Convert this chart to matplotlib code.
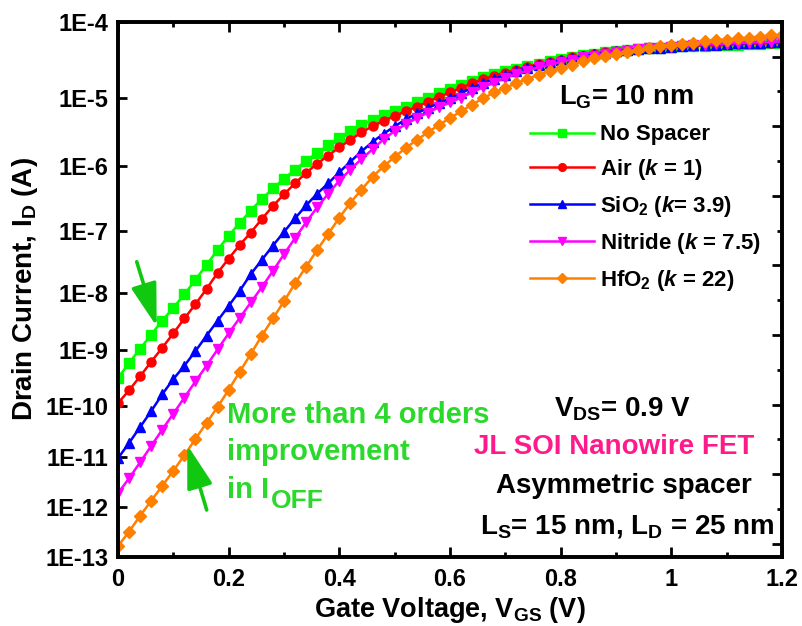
import numpy as np
import matplotlib
matplotlib.use("Agg")
import matplotlib.pyplot as plt
from matplotlib.ticker import FixedLocator, MultipleLocator, NullFormatter, NullLocator, FuncFormatter

plt.rcParams["font.family"] = ["Liberation Sans", "DejaVu Sans"]
plt.rcParams["font.weight"] = "bold"
plt.rcParams["axes.labelweight"] = "bold"
plt.rcParams["mathtext.fontset"] = "custom"
plt.rcParams["mathtext.rm"] = "Liberation Sans:bold"
plt.rcParams["mathtext.bf"] = "Liberation Sans:bold"
plt.rcParams["mathtext.it"] = "Liberation Sans:italic:bold"
plt.rcParams["mathtext.default"] = "rm"

# gate sweep 0 .. 1.2 V, 20 mV step
vgs = np.round(np.arange(0, 1.2001, 0.02), 2)

# log10 of drain current (A)
no_spacer_log = [
    -9.50, -9.23, -8.98, -8.73, -8.49, -8.26, -8.03, -7.79, -7.55, -7.31,
    -7.08, -6.88, -6.69, -6.51, -6.35, -6.20, -6.06, -5.93, -5.81, -5.70,
    -5.59, -5.49, -5.40, -5.33, -5.26, -5.20, -5.13, -5.06, -5.00, -4.94,
    -4.88, -4.83, -4.78, -4.73, -4.69, -4.65, -4.62, -4.58, -4.55, -4.52,
    -4.49, -4.465, -4.44, -4.42, -4.40, -4.385, -4.37, -4.36, -4.35, -4.34,
    -4.33, -4.325, -4.32, -4.315, -4.31, -4.305, -4.30, -4.295, -4.29, -4.285,
    -4.28,
]
air_log = [
    -9.95, -9.72, -9.47, -9.21, -8.96, -8.71, -8.45, -8.20, -7.94, -7.68,
    -7.45, -7.23, -7.03, -6.82, -6.62, -6.44, -6.27, -6.11, -5.97, -5.85,
    -5.73, -5.62, -5.51, -5.42, -5.34, -5.27, -5.20, -5.13, -5.06, -4.99,
    -4.93, -4.87, -4.81, -4.76, -4.71, -4.67, -4.63, -4.59, -4.56, -4.53,
    -4.50, -4.47, -4.45, -4.425, -4.405, -4.39, -4.375, -4.36, -4.35, -4.34,
    -4.33, -4.32, -4.315, -4.31, -4.30, -4.295, -4.29, -4.285, -4.28, -4.275,
    -4.27,
]
sio2_log = [
    -11.02, -10.72, -10.41, -10.10, -9.79, -9.52, -9.28, -9.02, -8.75, -8.49,
    -8.23, -7.97, -7.70, -7.47, -7.24, -7.02, -6.81, -6.61, -6.43, -6.27,
    -6.10, -5.94, -5.79, -5.65, -5.53, -5.42, -5.32, -5.23, -5.15, -5.08,
    -5.01, -4.94, -4.87, -4.81, -4.75, -4.70, -4.65, -4.61, -4.57, -4.54,
    -4.51, -4.48, -4.455, -4.43, -4.41, -4.39, -4.375, -4.36, -4.35, -4.34,
    -4.33, -4.32, -4.31, -4.305, -4.30, -4.29, -4.285, -4.28, -4.275, -4.27,
    -4.265,
]
nitride_log = [
    -11.72, -11.42, -11.10, -10.78, -10.46, -10.15, -9.85, -9.56, -9.28, -8.99,
    -8.71, -8.44, -8.17, -7.91, -7.65, -7.38, -7.12, -6.87, -6.64, -6.43,
    -6.23, -6.06, -5.90, -5.76, -5.61, -5.49, -5.39, -5.30, -5.22, -5.14,
    -5.07, -5.00, -4.93, -4.86, -4.80, -4.74, -4.69, -4.645, -4.60, -4.565,
    -4.53, -4.50, -4.47, -4.445, -4.42, -4.40, -4.38, -4.365, -4.35, -4.34,
    -4.33, -4.32, -4.31, -4.30, -4.295, -4.29, -4.28, -4.275, -4.27, -4.265,
    -4.26,
]
hfo2_log = [
    -12.78, -12.49, -12.17, -11.87, -11.57, -11.27, -10.96, -10.64, -10.33, -10.02,
    -9.71, -9.39, -9.07, -8.75, -8.45, -8.15, -7.85, -7.58, -7.31, -7.05,
    -6.80, -6.57, -6.37, -6.17, -6.01, -5.87, -5.74, -5.62, -5.51, -5.40,
    -5.30, -5.20, -5.10, -5.01, -4.93, -4.87, -4.81, -4.75, -4.70, -4.65,
    -4.61, -4.565, -4.52, -4.48, -4.455, -4.43, -4.40, -4.37, -4.34, -4.32,
    -4.305, -4.29, -4.275, -4.26, -4.245, -4.235, -4.22, -4.21, -4.195, -4.18,
    -4.17,
]

series = [
    ("No Spacer", no_spacer_log, "#00ff00", "s", 6.5),
    (r"Air ($\mathit{k}$ = 1)", air_log, "#ff0000", "o", 6.5),
    (r"SiO$_2$ ($\mathit{k}$= 3.9)", sio2_log, "#0000ff", "^", 7.5),
    (r"Nitride ($\mathit{k}$ = 7.5)", nitride_log, "#ff00ff", "v", 7.5),
    (r"HfO$_2$ ($\mathit{k}$ = 22)", hfo2_log, "#ff8000", "D", 6.5),
]

# the decade ticks of the original are not evenly spaced; calibrate them
dec_exp = np.arange(-13, -3)
dec_px = np.array([557, 507.3, 457.3, 406, 350, 292.7, 230.7, 165.7, 97.7, 21.7])


def fwd(v):
    return -np.interp(np.log10(np.clip(v, 1e-300, None)), dec_exp, dec_px)


def inv(f):
    return 10.0 ** np.interp(-np.asarray(f), dec_px[::-1], dec_exp[::-1])


fig = plt.figure(figsize=(8.02, 6.26), dpi=100)
ax = fig.add_axes([0.14713, 0.11022, 0.82793, 0.85511])
ax.set_yscale("function", functions=(fwd, inv))

for label, logs, color, marker, ms in series:
    ax.plot(vgs, 10.0 ** np.array(logs), color=color, marker=marker, ms=ms,
            lw=1.8, label=label)

ax.set_xlim(0, 1.2)
ax.set_ylim(1e-13, 1e-4)
ax.xaxis.set_major_locator(MultipleLocator(0.2))
ax.xaxis.set_minor_locator(MultipleLocator(0.1))
ax.xaxis.set_major_formatter(FuncFormatter(lambda x, _: f"{x:g}"))
ax.yaxis.set_major_locator(FixedLocator(10.0 ** dec_exp))
ax.yaxis.set_minor_locator(NullLocator())
ax.set_yticklabels([f"1E{e}" for e in dec_exp])

ax.tick_params(axis="both", which="both", direction="in", width=2, labelsize=17)
ax.tick_params(axis="x", which="major", length=7, top=True, pad=8)
ax.tick_params(axis="x", which="minor", length=3.5, top=True)
ax.tick_params(axis="y", which="major", length=6.5, pad=7)

# right axis carries its own evenly spaced ticks
ax2 = ax.twinx()
ax2.set_ylim(15.38, 0)
ax2.yaxis.set_major_locator(FixedLocator(np.arange(1, 16, 2)))
ax2.yaxis.set_minor_locator(FixedLocator(np.arange(0, 16, 2)))
ax2.yaxis.set_major_formatter(NullFormatter())
ax2.tick_params(axis="y", which="major", direction="in", length=7.5, width=2)
ax2.tick_params(axis="y", which="minor", direction="in", length=3.5, width=2)

for a in (ax, ax2):
    for sp in a.spines.values():
        sp.set_linewidth(2.6)

ax.set_xlabel(r"Gate Voltage, V$_{\rm GS}$ (V)", fontsize=19.5, labelpad=3)
ax.set_ylabel(r"Drain Current, I$_{\rm D}$ (A)", fontsize=20, labelpad=4)

ax.legend(loc="upper left", bbox_to_anchor=(0.6205, 0.808), frameon=False,
          fontsize=16, handlelength=2.9, handletextpad=0.25, labelspacing=0.53,
          borderaxespad=0, borderpad=0, markerscale=0.85)

ax.text(0.766, 0.8444, r"L$_{\rm G}$= 10 nm", transform=ax.transAxes,
        ha="center", va="baseline", fontsize=19.5)
ax.text(0.7605, 0.2621, r"V$_{\rm DS}$= 0.9 V", transform=ax.transAxes,
        ha="center", va="baseline", fontsize=20)
ax.text(0.747, 0.1924, "JL SOI Nanowire FET", transform=ax.transAxes,
        ha="center", va="baseline", fontsize=20, color="#ff1a8c")
ax.text(0.762, 0.119, "Asymmetric spacer", transform=ax.transAxes,
        ha="center", va="baseline", fontsize=20)
ax.text(0.767, 0.043, r"L$_{\rm S}$= 15 nm, L$_{\rm D}$ = 25 nm",
        transform=ax.transAxes, ha="center", va="baseline", fontsize=20)

green_txt = "#2bd92b"
ax.text(0.1637, 0.2498, "More than 4 orders", transform=ax.transAxes,
        ha="left", va="baseline", fontsize=21, color=green_txt)
ax.text(0.1637, 0.1812, "improvement", transform=ax.transAxes,
        ha="left", va="baseline", fontsize=21, color=green_txt)
t_in = ax.text(0.1637, 0.1097, "in I", transform=ax.transAxes,
               ha="left", va="baseline", fontsize=21, color=green_txt)
ax.annotate("OFF", xy=(1, 0), xycoords=t_in, xytext=(1.5, -3),
            textcoords="offset points", ha="left", va="baseline",
            fontsize=19, color=green_txt)

arrow = dict(arrowstyle="-|>,head_length=1.1,head_width=0.33", color="#10c810",
             lw=2.6, mutation_scale=24, shrinkA=0, shrinkB=0)
ax.annotate("", xy=(0.0583, 0.4306), xytext=(0.0282, 0.5516),
            xycoords="axes fraction", textcoords="axes fraction", arrowprops=arrow)
ax.annotate("", xy=(0.1044, 0.2092), xytext=(0.1336, 0.0878),
            xycoords="axes fraction", textcoords="axes fraction", arrowprops=arrow)

fig.savefig("out.png", dpi=100)
